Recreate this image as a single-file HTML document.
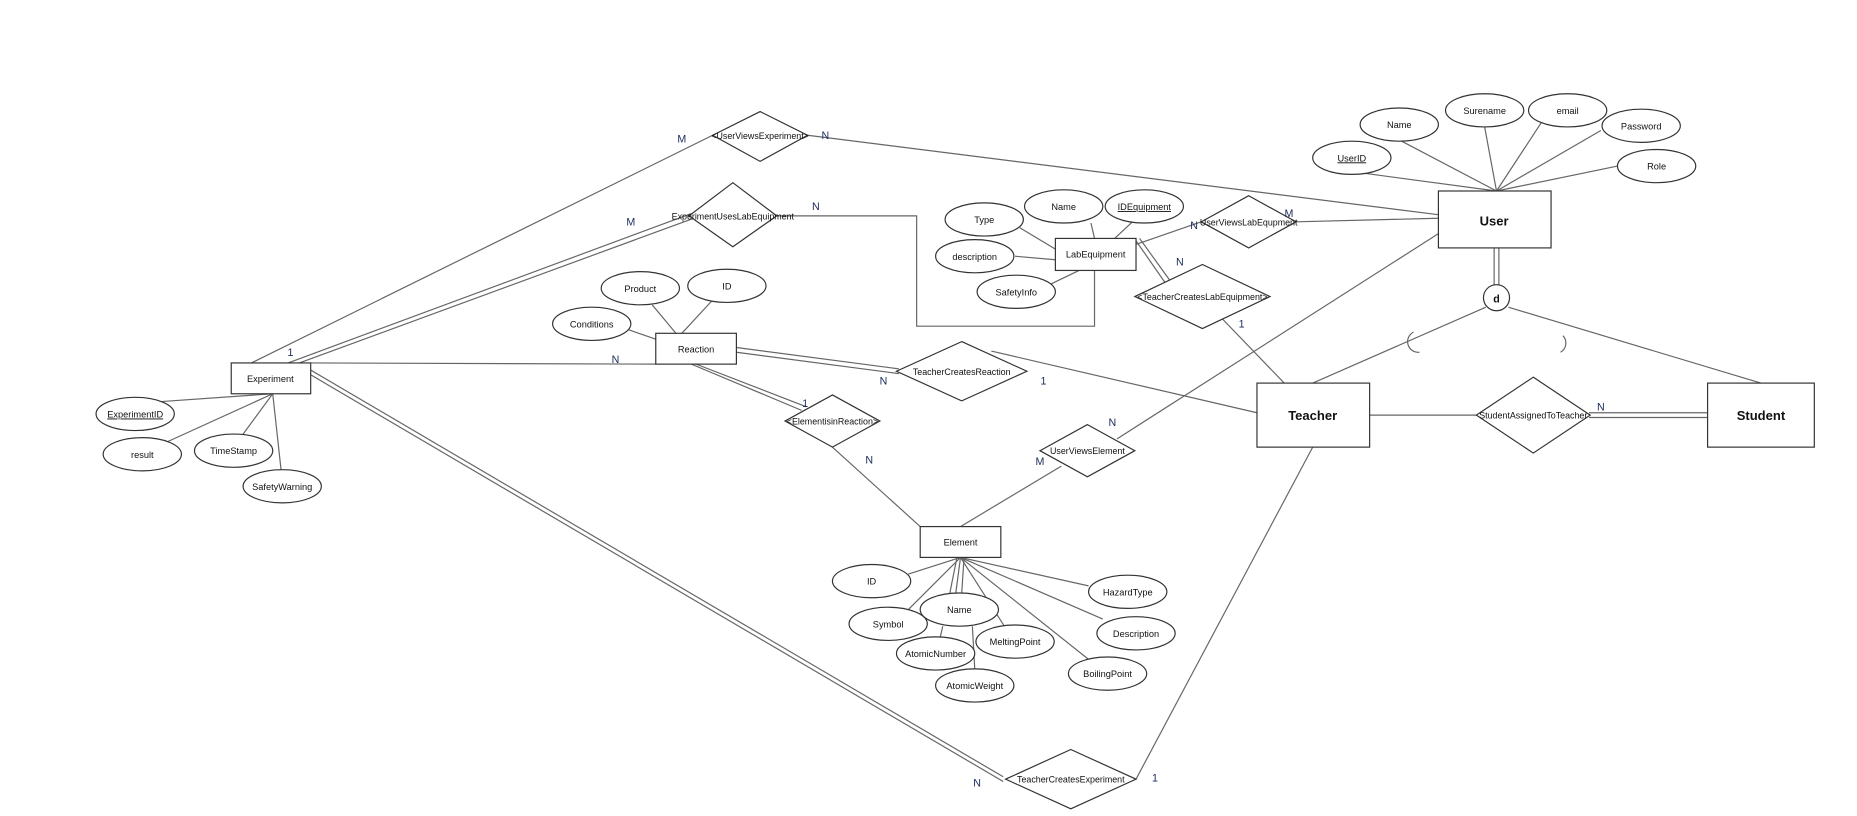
<!DOCTYPE html>
<html><head><meta charset="utf-8"><style>
html,body{margin:0;padding:0;background:#fff;}
svg{display:block;}
text{font-family:"Liberation Sans",sans-serif;fill:#111;}
</style></head><body>
<svg width="1857" height="816" viewBox="0 0 1566 688" xmlns="http://www.w3.org/2000/svg">
<g stroke="#666" stroke-width="1" fill="none">
<line x1="1262" y1="161" x2="1182" y2="119"/>
<line x1="1262" y1="161" x2="1252" y2="107"/>
<line x1="1262" y1="161" x2="1300" y2="103"/>
<line x1="1262" y1="161" x2="1350" y2="110"/>
<line x1="1262" y1="161" x2="1150" y2="146"/>
<line x1="1262" y1="161" x2="1364" y2="140"/>
<line x1="212" y1="306" x2="601" y2="114"/>
<line x1="681" y1="114" x2="1213" y2="181"/>
<line x1="243" y1="306" x2="583" y2="180"/>
<line x1="247" y1="308" x2="585" y2="184"/>
<polyline points="655,182 773,182 773,275 923,275 923,228"/>
<line x1="890" y1="210" x2="860" y2="192"/>
<line x1="923" y1="201" x2="920" y2="188"/>
<line x1="940" y1="201" x2="955" y2="187"/>
<line x1="890" y1="219" x2="856" y2="216"/>
<line x1="910" y1="228" x2="885" y2="240"/>
<line x1="958" y1="206" x2="1013" y2="187"/>
<line x1="1093" y1="187" x2="1213" y2="184"/>
<line x1="958" y1="203" x2="983" y2="239"/>
<line x1="961" y1="201" x2="987" y2="237"/>
<line x1="1030" y1="268" x2="1083" y2="323"/>
<line x1="1213" y1="197" x2="942" y2="370"/>
<line x1="895" y1="393" x2="810" y2="444"/>
<line x1="262" y1="306" x2="553" y2="307"/>
<line x1="570" y1="281" x2="550" y2="257"/>
<line x1="575" y1="281" x2="600" y2="254"/>
<line x1="553" y1="286" x2="530" y2="278"/>
<line x1="621" y1="293" x2="758" y2="311"/>
<line x1="621" y1="297" x2="758" y2="315"/>
<line x1="836" y1="296" x2="1060" y2="348"/>
<line x1="583" y1="307" x2="676" y2="346"/>
<line x1="587" y1="307" x2="680" y2="343"/>
<line x1="702" y1="377" x2="776" y2="444"/>
<line x1="1155" y1="350" x2="1245" y2="350"/>
<line x1="1340" y1="348" x2="1440" y2="348"/>
<line x1="1340" y1="352" x2="1440" y2="352"/>
<line x1="1260" y1="209" x2="1260" y2="240"/>
<line x1="1264" y1="209" x2="1264" y2="240"/>
<line x1="1253" y1="259" x2="1107" y2="323"/>
<line x1="1272" y1="259" x2="1485" y2="323"/>
<path d="M1192,280 A9,9 0 0 0 1197,297"/>
<path d="M1318,283 A9,9 0 0 1 1316,297"/>
<line x1="262" y1="312" x2="846" y2="655"/>
<line x1="262" y1="316" x2="846" y2="659"/>
<line x1="958" y1="657" x2="1107" y2="377"/>
<line x1="230" y1="332" x2="130" y2="339"/>
<line x1="230" y1="332" x2="140" y2="373"/>
<line x1="230" y1="332" x2="205" y2="366"/>
<line x1="230" y1="332" x2="237" y2="396"/>
<line x1="810" y1="470" x2="766" y2="484"/>
<line x1="810" y1="470" x2="766" y2="514"/>
<line x1="807" y1="470" x2="801" y2="500"/>
<line x1="810" y1="470" x2="806" y2="500"/>
<line x1="813" y1="470" x2="811" y2="500"/>
<line x1="810" y1="470" x2="847" y2="528"/>
<line x1="810" y1="470" x2="918" y2="494"/>
<line x1="810" y1="470" x2="930" y2="522"/>
<line x1="810" y1="470" x2="918" y2="556"/>
<line x1="795" y1="528" x2="793" y2="537"/>
<line x1="820" y1="528" x2="822" y2="564"/>
</g>
<g stroke="#333" stroke-width="1" fill="#fff">
<rect x="1213" y="161" width="95" height="48"/>
<rect x="1060" y="323" width="95" height="54"/>
<rect x="1440" y="323" width="90" height="54"/>
<rect x="195" y="306" width="67" height="26"/>
<rect x="553" y="281" width="68" height="26"/>
<rect x="890" y="201" width="68" height="27"/>
<rect x="776" y="444" width="68" height="26"/>
<circle cx="1262" cy="251" r="11"/>
<ellipse cx="1180" cy="105" rx="33" ry="14"/>
<ellipse cx="1252" cy="93" rx="33" ry="14"/>
<ellipse cx="1322" cy="93" rx="33" ry="14"/>
<ellipse cx="1384" cy="106" rx="33" ry="14"/>
<ellipse cx="1140" cy="133" rx="33" ry="14"/>
<ellipse cx="1397" cy="140" rx="33" ry="14"/>
<ellipse cx="830" cy="185" rx="33" ry="14"/>
<ellipse cx="897" cy="174" rx="33" ry="14"/>
<ellipse cx="965" cy="174" rx="33" ry="14"/>
<ellipse cx="822" cy="216" rx="33" ry="14"/>
<ellipse cx="857" cy="246" rx="33" ry="14"/>
<ellipse cx="540" cy="243" rx="33" ry="14"/>
<ellipse cx="613" cy="241" rx="33" ry="14"/>
<ellipse cx="499" cy="273" rx="33" ry="14"/>
<ellipse cx="114" cy="349" rx="33" ry="14"/>
<ellipse cx="120" cy="383" rx="33" ry="14"/>
<ellipse cx="197" cy="380" rx="33" ry="14"/>
<ellipse cx="238" cy="410" rx="33" ry="14"/>
<ellipse cx="735" cy="490" rx="33" ry="14"/>
<ellipse cx="749" cy="526" rx="33" ry="14"/>
<ellipse cx="809" cy="514" rx="33" ry="14"/>
<ellipse cx="789" cy="551" rx="33" ry="14"/>
<ellipse cx="856" cy="541" rx="33" ry="14"/>
<ellipse cx="822" cy="578" rx="33" ry="14"/>
<ellipse cx="951" cy="499" rx="33" ry="14"/>
<ellipse cx="958" cy="534" rx="33" ry="14"/>
<ellipse cx="934" cy="568" rx="33" ry="14"/>
<polygon points="641,94 681,114 641,136 601,114"/>
<polygon points="618,154 655,182 618,208 581,182"/>
<polygon points="1053,165 1093,187 1053,209 1013,187"/>
<polygon points="1014,223 1071,250 1014,277 957,250"/>
<polygon points="811,288 866,313 811,338 756,313"/>
<polygon points="702,333 742,355 702,377 662,355"/>
<polygon points="917,358 957,380 917,402 877,380"/>
<polygon points="1293,318 1341,350 1293,382 1245,350"/>
<polygon points="903,632 958,657 903,682 848,657"/>
</g>
<g font-size="7.8" text-anchor="middle">
<text x="1260" y="190" font-size="11" font-weight="bold">User</text>
<text x="1107" y="354" font-size="11" font-weight="bold">Teacher</text>
<text x="1485" y="354" font-size="11" font-weight="bold">Student</text>
<text x="1262" y="255" font-size="9" font-weight="bold">d</text>
<text x="228" y="322">Experiment</text>
<text x="587" y="297">Reaction</text>
<text x="924" y="217">LabEquipment</text>
<text x="810" y="460">Element</text>
<text x="1180" y="108">Name</text>
<text x="1252" y="96">Surename</text>
<text x="1322" y="96">email</text>
<text x="1384" y="109">Password</text>
<text x="1140" y="136" text-decoration="underline">UserID</text>
<text x="1397" y="143">Role</text>
<text x="830" y="188">Type</text>
<text x="897" y="177">Name</text>
<text x="965" y="177" text-decoration="underline">IDEquipment</text>
<text x="822" y="219">description</text>
<text x="857" y="249">SafetyInfo</text>
<text x="540" y="246">Product</text>
<text x="613" y="244">ID</text>
<text x="499" y="276">Conditions</text>
<text x="114" y="352" text-decoration="underline">ExperimentID</text>
<text x="120" y="386">result</text>
<text x="197" y="383">TimeStamp</text>
<text x="238" y="413">SafetyWarning</text>
<text x="735" y="493">ID</text>
<text x="749" y="529">Symbol</text>
<text x="809" y="517">Name</text>
<text x="789" y="554">AtomicNumber</text>
<text x="856" y="544">MeltingPoint</text>
<text x="822" y="581">AtomicWeight</text>
<text x="951" y="502">HazardType</text>
<text x="958" y="537">Description</text>
<text x="934" y="571">BoilingPoint</text>
<text x="641" y="117" font-size="7.5">&lt;UserViewsExperiment&gt;</text>
<text x="618" y="185" font-size="7.5">ExperimentUsesLabEquipment</text>
<text x="1053" y="190" font-size="7.5">UserViewsLabEqupment</text>
<text x="1014" y="253" font-size="7.5">&lt;TeacherCreatesLabEquipment&gt;</text>
<text x="811" y="316" font-size="7.5">TeacherCreatesReaction</text>
<text x="702" y="358" font-size="7.5">&lt;ElementisinReaction&gt;</text>
<text x="917" y="383" font-size="7.5">UserViewsElement</text>
<text x="1293" y="353" font-size="7.5">StudentAssignedToTeacher</text>
<text x="903" y="660" font-size="7.5">TeacherCreatesExperiment</text>
</g>
<g font-size="9" text-anchor="middle">
<text x="575" y="120" style="fill:#1a2a5a">M</text>
<text x="696" y="117" style="fill:#1a2a5a">N</text>
<text x="532" y="190" style="fill:#1a2a5a">M</text>
<text x="688" y="177" style="fill:#1a2a5a">N</text>
<text x="245" y="300" style="fill:#1a2a5a">1</text>
<text x="519" y="306" style="fill:#1a2a5a">N</text>
<text x="1007" y="193" style="fill:#1a2a5a">N</text>
<text x="1087" y="183" style="fill:#1a2a5a">M</text>
<text x="995" y="224" style="fill:#1a2a5a">N</text>
<text x="1047" y="276" style="fill:#1a2a5a">1</text>
<text x="745" y="324" style="fill:#1a2a5a">N</text>
<text x="880" y="324" style="fill:#1a2a5a">1</text>
<text x="679" y="343" style="fill:#1a2a5a">1</text>
<text x="733" y="391" style="fill:#1a2a5a">N</text>
<text x="938" y="359" style="fill:#1a2a5a">N</text>
<text x="877" y="392" style="fill:#1a2a5a">M</text>
<text x="1350" y="346" style="fill:#1a2a5a">N</text>
<text x="824" y="663" style="fill:#1a2a5a">N</text>
<text x="974" y="659" style="fill:#1a2a5a">1</text>
</g>
</svg>
</body></html>
